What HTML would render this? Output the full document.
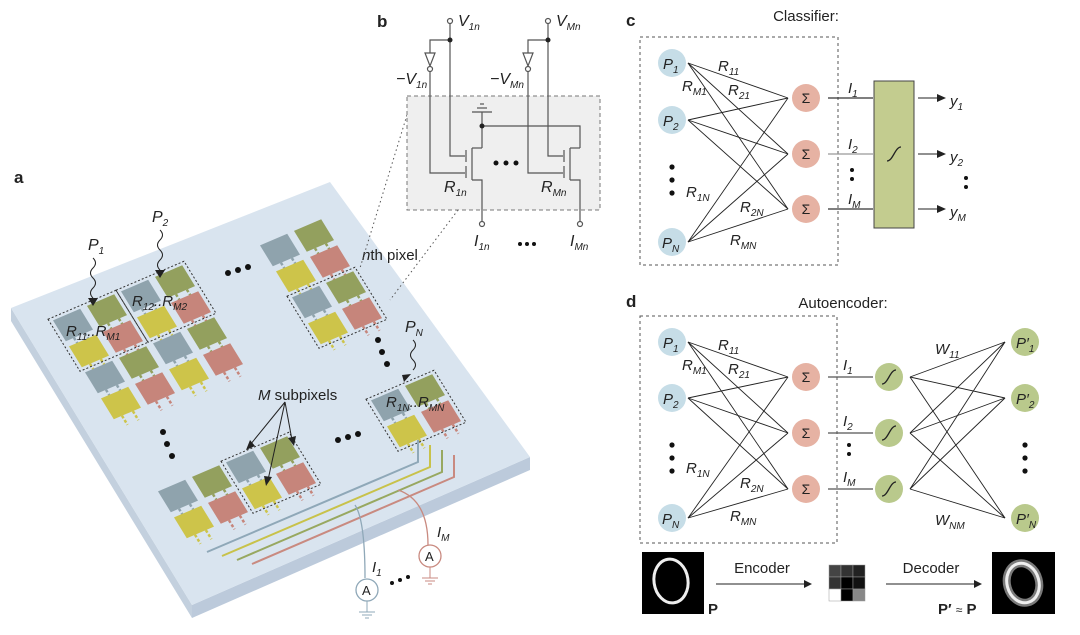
<!DOCTYPE html>
<html><head><meta charset="utf-8"><style>
html,body{margin:0;padding:0;background:#fff;width:1080px;height:635px;overflow:hidden}
svg{display:block}
text{font-family:"Liberation Sans",sans-serif;fill:#222}
.it{font-style:italic}
</style></head><body>
<svg id="s" width="1080" height="635" viewBox="0 0 1080 635" xmlns="http://www.w3.org/2000/svg">
<!-- plate -->
<polygon points="11,308 192,605 192,618 11,321" fill="#c3d0de"/>
<polygon points="192,605 530,457 530,470 192,618" fill="#bccadb"/>
<polygon points="11,308 330,182 530,457 192,605" fill="#d9e4ef"/>
<g id="cells"></g>
<g id="wires" fill="none" stroke-width="2">
<polyline points="207,552 418,462 418,440" stroke="#8fa8b8"/>
<polyline points="222,556 430,467 430,445" stroke="#c8c24a"/>
<polyline points="237,560 442,472 442,450" stroke="#98a860"/>
<polyline points="252,564 454,477 454,455" stroke="#c98a80"/>
<path d="M355,505 Q365,520 365,578" stroke="#8fa8b8" stroke-width="1.3"/>
<path d="M398,490 Q428,500 428,545" stroke="#c98a80" stroke-width="1.3"/>
</g>
<circle cx="367" cy="590" r="11" fill="#fff" stroke="#8fa8b8" stroke-width="1.3"/>
<text x="362" y="595" font-size="13">A</text>
<circle cx="430" cy="556" r="11" fill="#fff" stroke="#c98a80" stroke-width="1.3"/>
<text x="425" y="561" font-size="13">A</text>
<g stroke="#8fa8b8"><line x1="367" y1="601" x2="367" y2="612"/><line x1="359" y1="612" x2="375" y2="612"/><line x1="362" y1="615" x2="372" y2="615"/><line x1="365" y1="618" x2="369" y2="618"/></g>
<g stroke="#c98a80"><line x1="430" y1="567" x2="430" y2="578"/><line x1="422" y1="578" x2="438" y2="578"/><line x1="425" y1="581" x2="435" y2="581"/><line x1="428" y1="584" x2="432" y2="584"/></g>
<text x="372" y="572" font-size="15" class="it">I<tspan font-size="10" dy="4">1</tspan></text>
<text x="437" y="537" font-size="15" class="it">I<tspan font-size="10" dy="4">M</tspan></text>
<g fill="#111"><circle cx="392" cy="583" r="2"/><circle cx="400" cy="580" r="2"/><circle cx="408" cy="577" r="2"/></g>
<text x="14" y="183" font-size="17" font-weight="bold">a</text>
<!-- labels a -->
<text x="88" y="250" font-size="16" class="it">P<tspan font-size="10" dy="4">1</tspan></text>
<text x="152" y="222" font-size="16" class="it">P<tspan font-size="10" dy="4">2</tspan></text>
<text x="405" y="332" font-size="16" class="it">P<tspan font-size="10" dy="4">N</tspan></text>
<g fill="none" stroke="#222" stroke-width="1">
<path d="M93,258 q5,5 0,10 q-5,5 0,10 q5,5 0,10 q-5,5 0,10"/>
<path d="M160,230 q5,5 0,10 q-5,5 0,10 q5,5 0,10 q-5,5 0,10"/>
<path d="M413,340 q5,5 0,10 q-5,5 0,10 q5,5 0,10"/>
</g>
<g fill="#222"><polygon points="88,298 98,298 93,306"/><polygon points="155,270 165,270 160,278"/><polygon points="402,375 411,374 404,382"/></g>
<text x="66" y="336" font-size="15" class="it">R<tspan font-size="10" dy="4">11</tspan><tspan dy="-4">..R</tspan><tspan font-size="10" dy="4">M1</tspan></text>
<text x="132" y="306" font-size="15" class="it">R<tspan font-size="10" dy="4">12</tspan><tspan dy="-4">..R</tspan><tspan font-size="10" dy="4">M2</tspan></text>
<text x="386" y="407" font-size="15" class="it">R<tspan font-size="10" dy="4">1N</tspan><tspan dy="-4">..R</tspan><tspan font-size="10" dy="4">MN</tspan></text>
<text x="258" y="400" font-size="15"><tspan class="it">M</tspan> subpixels</text>
<text x="362" y="260" font-size="15"><tspan class="it">n</tspan>th pixel</text>
<g stroke="#222" fill="none" stroke-width="1"><line x1="285" y1="402" x2="250" y2="445"/><line x1="285" y1="402" x2="268" y2="480"/><line x1="285" y1="402" x2="292" y2="440"/></g>
<g fill="#222"><polygon points="246,450 250,440 255,446"/><polygon points="266,486 264,476 272,477"/><polygon points="294,446 288,438 296,436"/></g>
<g fill="#111">
<circle cx="228" cy="273" r="3"/><circle cx="238" cy="270" r="3"/><circle cx="248" cy="267" r="3"/>
<circle cx="163" cy="432" r="3"/><circle cx="167" cy="444" r="3"/><circle cx="172" cy="456" r="3"/>
<circle cx="338" cy="440" r="3"/><circle cx="348" cy="437" r="3"/><circle cx="358" cy="434" r="3"/>
<circle cx="378" cy="340" r="3"/><circle cx="382" cy="352" r="3"/><circle cx="387" cy="364" r="3"/>
</g>
<!-- b -->
<line x1="407" y1="115" x2="360" y2="268" stroke="#555" stroke-dasharray="1.5,3"/>
<line x1="458" y1="210" x2="390" y2="300" stroke="#555" stroke-dasharray="1.5,3"/>
<rect x="407" y="96" width="193" height="114" fill="#efefef" stroke="#777" stroke-dasharray="4,3"/>
<text x="377" y="27" font-size="17" font-weight="bold">b</text>
<g stroke="#555" fill="none" stroke-width="1.2">
<g id="tr">
<circle cx="450" cy="21" r="2.5" fill="#fff"/>
<polyline points="450,24 450,156 465,156"/>
<polyline points="450,40 430,40 430,53"/>
<polygon points="425,53 435,53 430,66" fill="#fff"/>
<circle cx="430" cy="69" r="2.5" fill="#fff"/>
<polyline points="430,72 430,173 465,173"/>
<line x1="466" y1="150" x2="466" y2="162"/><line x1="466" y1="166" x2="466" y2="178"/>
<line x1="472" y1="148" x2="472" y2="180"/>
<polyline points="472,148 482,148"/>
<polyline points="472,180 482,180 482,221"/>
<circle cx="482" cy="224" r="2.5" fill="#fff"/>
</g>
<use href="#tr" transform="translate(98,0)"/>
<line x1="482" y1="148" x2="482" y2="112"/>
<line x1="472" y1="112" x2="492" y2="112"/><line x1="477" y1="108" x2="487" y2="108"/><line x1="480" y1="104" x2="484" y2="104"/>
<polyline points="482,126 580,126 580,148"/>
</g>
<circle cx="482" cy="126" r="2.5" fill="#222"/>
<circle cx="450" cy="40" r="2.5" fill="#222"/><circle cx="548" cy="40" r="2.5" fill="#222"/>
<text x="458" y="26" font-size="16" class="it">V<tspan font-size="10" dy="4">1n</tspan></text>
<text x="556" y="26" font-size="16" class="it">V<tspan font-size="10" dy="4">Mn</tspan></text>
<text x="396" y="84" font-size="16" class="it">−V<tspan font-size="10" dy="4">1n</tspan></text>
<text x="490" y="84" font-size="16" class="it">−V<tspan font-size="10" dy="4">Mn</tspan></text>
<text x="444" y="192" font-size="16" class="it">R<tspan font-size="10" dy="4">1n</tspan></text>
<text x="541" y="192" font-size="16" class="it">R<tspan font-size="10" dy="4">Mn</tspan></text>
<text x="474" y="246" font-size="16" class="it">I<tspan font-size="10" dy="4">1n</tspan></text>
<text x="570" y="246" font-size="16" class="it">I<tspan font-size="10" dy="4">Mn</tspan></text>
<g fill="#111"><circle cx="496" cy="163" r="2.5"/><circle cx="506" cy="163" r="2.5"/><circle cx="516" cy="163" r="2.5"/>
<circle cx="520" cy="244" r="2"/><circle cx="527" cy="244" r="2"/><circle cx="534" cy="244" r="2"/></g>
<!-- c -->
<text x="626" y="26" font-size="17" font-weight="bold">c</text>
<text x="806" y="21" font-size="15" text-anchor="middle">Classifier:</text>
<rect x="640" y="37" width="198" height="228" fill="none" stroke="#555" stroke-dasharray="3,3"/>
<g id="net"></g>
<!-- d -->
<text x="626" y="307" font-size="17" font-weight="bold">d</text>
<text x="843" y="308" font-size="15" text-anchor="middle">Autoencoder:</text>
<rect x="640" y="316" width="197" height="227" fill="none" stroke="#555" stroke-dasharray="3,3"/>
<!-- bottom d -->
<rect x="642" y="552" width="62" height="62" fill="#000"/>
<ellipse cx="671" cy="581" rx="17" ry="22" transform="rotate(-8 671 581)" fill="none" stroke="#eee" stroke-width="3"/>
<text x="708" y="614" font-size="15" font-weight="bold">P</text>
<text x="762" y="573" font-size="15" text-anchor="middle">Encoder</text>
<line x1="716" y1="584" x2="805" y2="584" stroke="#222"/><polygon points="812,584 804,580 804,588" fill="#222"/>
<g stroke="#999" stroke-width="0.5">
<rect x="829" y="565" width="12" height="12" fill="#444"/><rect x="841" y="565" width="12" height="12" fill="#333"/><rect x="853" y="565" width="12" height="12" fill="#222"/>
<rect x="829" y="577" width="12" height="12" fill="#333"/><rect x="841" y="577" width="12" height="12" fill="#000"/><rect x="853" y="577" width="12" height="12" fill="#111"/>
<rect x="829" y="589" width="12" height="12" fill="#fff"/><rect x="841" y="589" width="12" height="12" fill="#000"/><rect x="853" y="589" width="12" height="12" fill="#888"/>
</g>
<text x="931" y="573" font-size="15" text-anchor="middle">Decoder</text>
<line x1="886" y1="584" x2="975" y2="584" stroke="#222"/><polygon points="982,584 974,580 974,588" fill="#222"/>
<rect x="992" y="552" width="63" height="62" fill="#000"/>
<ellipse cx="1023" cy="583" rx="16" ry="20" transform="rotate(-15 1023 583)" fill="none" stroke="#999" stroke-width="8" opacity="0.8"/>
<ellipse cx="1023" cy="583" rx="16" ry="20" transform="rotate(-15 1023 583)" fill="none" stroke="#eee" stroke-width="3"/>
<text x="938" y="614" font-size="15" font-weight="bold">P′ <tspan font-weight="normal" font-size="12">≈</tspan> P</text>
</svg>
<script>
var NS="http://www.w3.org/2000/svg";
function el(p,t,a,txt){var e=document.createElementNS(NS,t);for(var k in a)e.setAttribute(k,a[k]);if(txt!=null)e.textContent=txt;p.appendChild(e);return e;}
var C={B:"#8fa3ad",O:"#93a05e",Y:"#cdc44a",S:"#c6857b"};
var cu=[34,-14.5],rv=[16,26];
var cells=document.getElementById("cells");
function cell(cx,cy,col){
 var u=[cu[0]*0.4,cu[1]*0.4],v=[rv[0]*0.4,rv[1]*0.4];
 for(var i=-1;i<=1;i+=2){var sx=cx+v[0]+u[0]*0.4*i,sy=cy+v[1]+u[1]*0.4*i;
  el(cells,"line",{x1:sx,y1:sy,x2:sx+rv[0]*0.35,y2:sy+rv[1]*0.35,stroke:col,"stroke-width":2.5,"stroke-dasharray":"3,2"});}
 var p=[[cx-u[0]-v[0],cy-u[1]-v[1]],[cx+u[0]-v[0],cy+u[1]-v[1]],[cx+u[0]+v[0],cy+u[1]+v[1]],[cx-u[0]+v[0],cy-u[1]+v[1]]];
 el(cells,"polygon",{points:p.map(function(q){return q.join(",")}).join(" "),fill:col});
}
function block(ox,oy,rows){
 for(var r=0;r<rows.length;r++)for(var c=0;c<rows[r].length;c++){
  cell(ox+c*cu[0]+r*rv[0],oy+c*cu[1]+r*rv[1],C[rows[r][c]]);}
}
function dbox(ox,oy){
 var a=[ox-cu[0]*0.5-rv[0]*0.5,oy-cu[1]*0.5-rv[1]*0.5];
 var p=[a,[a[0]+2*cu[0],a[1]+2*cu[1]],[a[0]+2*cu[0]+2*rv[0],a[1]+2*cu[1]+2*rv[1]],[a[0]+2*rv[0],a[1]+2*rv[1]]];
 el(cells,"polygon",{points:p.map(function(q){return q.join(",")}).join(" "),fill:"none",stroke:"#333","stroke-dasharray":"2,2"});
}
block(73,325,["BOBO","YSYS","BOBO","YSYS"]);
dbox(73,325);dbox(141,296);
block(280,250,["BO","YS","BO","YS"]);dbox(312,302);
block(391,405,["BO","YS"]);dbox(391,405);
block(178,496,["BOBO","YSYS"]);dbox(246,467);
var net=document.getElementById("net");
function node(x,y,fill,r){el(net,"circle",{cx:x,cy:y,r:r||14,fill:fill});}
function lbl(x,y,m,s,fs){var t=el(net,"text",{x:x,y:y,"font-size":fs||15,"font-style":"italic"},m);if(s){el(t,"tspan",{"font-size":10,dy:4},s);}}
function sig(x,y){el(net,"path",{d:"M"+(x-7)+","+(y+7)+" C"+(x-1)+","+(y+7)+" "+(x+1)+","+(y-7)+" "+(x+7)+","+(y-7),fill:"none",stroke:"#222","stroke-width":1.3});}
function layer(PY,SY){
 PY.forEach(function(py){SY.forEach(function(sy){el(net,"line",{x1:688,y1:py,x2:788,y2:sy,stroke:"#222","stroke-width":0.9});});});
 node(672,PY[0],"#c6dde7");node(672,PY[1],"#c6dde7");node(672,PY[2],"#c6dde7");
 lbl(663,PY[0]+6,"P","1");lbl(663,PY[1]+6,"P","2");lbl(662,PY[2]+6,"P","N");
 [0,13,26].forEach(function(d){el(net,"circle",{cx:672,cy:PY[1]+47+d,r:2.6,fill:"#111"});});
 SY.forEach(function(sy){node(806,sy,"#e6b2a3");el(net,"text",{x:806,y:sy+5,"font-size":14,"text-anchor":"middle",fill:"#222"},"Σ");});
 lbl(718,PY[0]+8,"R","11");lbl(682,PY[0]+28,"R","M1");lbl(728,PY[0]+32,"R","21");
 lbl(686,PY[2]-45,"R","1N");lbl(740,PY[2]-30,"R","2N");lbl(730,PY[2]+3,"R","MN");
}
layer([63,120,242],[98,154,209]);
[98,154,209].forEach(function(y,i){el(net,"line",{x1:828,y1:y,x2:873,y2:y,stroke:i==1?"#999":"#333","stroke-width":1.3});
 el(net,"line",{x1:918,y1:y,x2:938,y2:y,stroke:"#222"});el(net,"polygon",{points:"946,"+y+" 937,"+(y-4)+" 937,"+(y+4),fill:"#222"});});
lbl(848,93,"I","1");lbl(848,149,"I","2");lbl(848,204,"I","M");
el(net,"circle",{cx:852,cy:170,r:2,fill:"#111"});el(net,"circle",{cx:852,cy:179,r:2,fill:"#111"});
el(net,"rect",{x:874,y:81,width:40,height:147,fill:"#c3cc8f",stroke:"#444"});sig(894,154);
lbl(950,106,"y","1");lbl(950,162,"y","2");lbl(950,217,"y","M");
el(net,"circle",{cx:966,cy:178,r:2,fill:"#111"});el(net,"circle",{cx:966,cy:187,r:2,fill:"#111"});
var DP=[342,398,518],DS=[377,433,489];
layer(DP,DS);
DS.forEach(function(y){el(net,"line",{x1:828,y1:y,x2:873,y2:y,stroke:"#555","stroke-width":1.2});});
lbl(843,370,"I","1");lbl(843,426,"I","2");lbl(843,482,"I","M");
el(net,"circle",{cx:849,cy:445,r:2,fill:"#111"});el(net,"circle",{cx:849,cy:454,r:2,fill:"#111"});
DS.forEach(function(sy){DP.forEach(function(py){el(net,"line",{x1:910,y1:sy,x2:1005,y2:py,stroke:"#222","stroke-width":0.9});});});
DS.forEach(function(y){node(889,y,"#b9c98c");sig(889,y);});
DP.forEach(function(y,i){node(1025,y,"#b9c98c");lbl(1016,y+6,"P′",["1","2","N"][i]);});
[0,13,26].forEach(function(d){el(net,"circle",{cx:1025,cy:445+d,r:2.6,fill:"#111"});});
lbl(935,354,"W","11");lbl(935,525,"W","NM");
</script>
</body></html>
